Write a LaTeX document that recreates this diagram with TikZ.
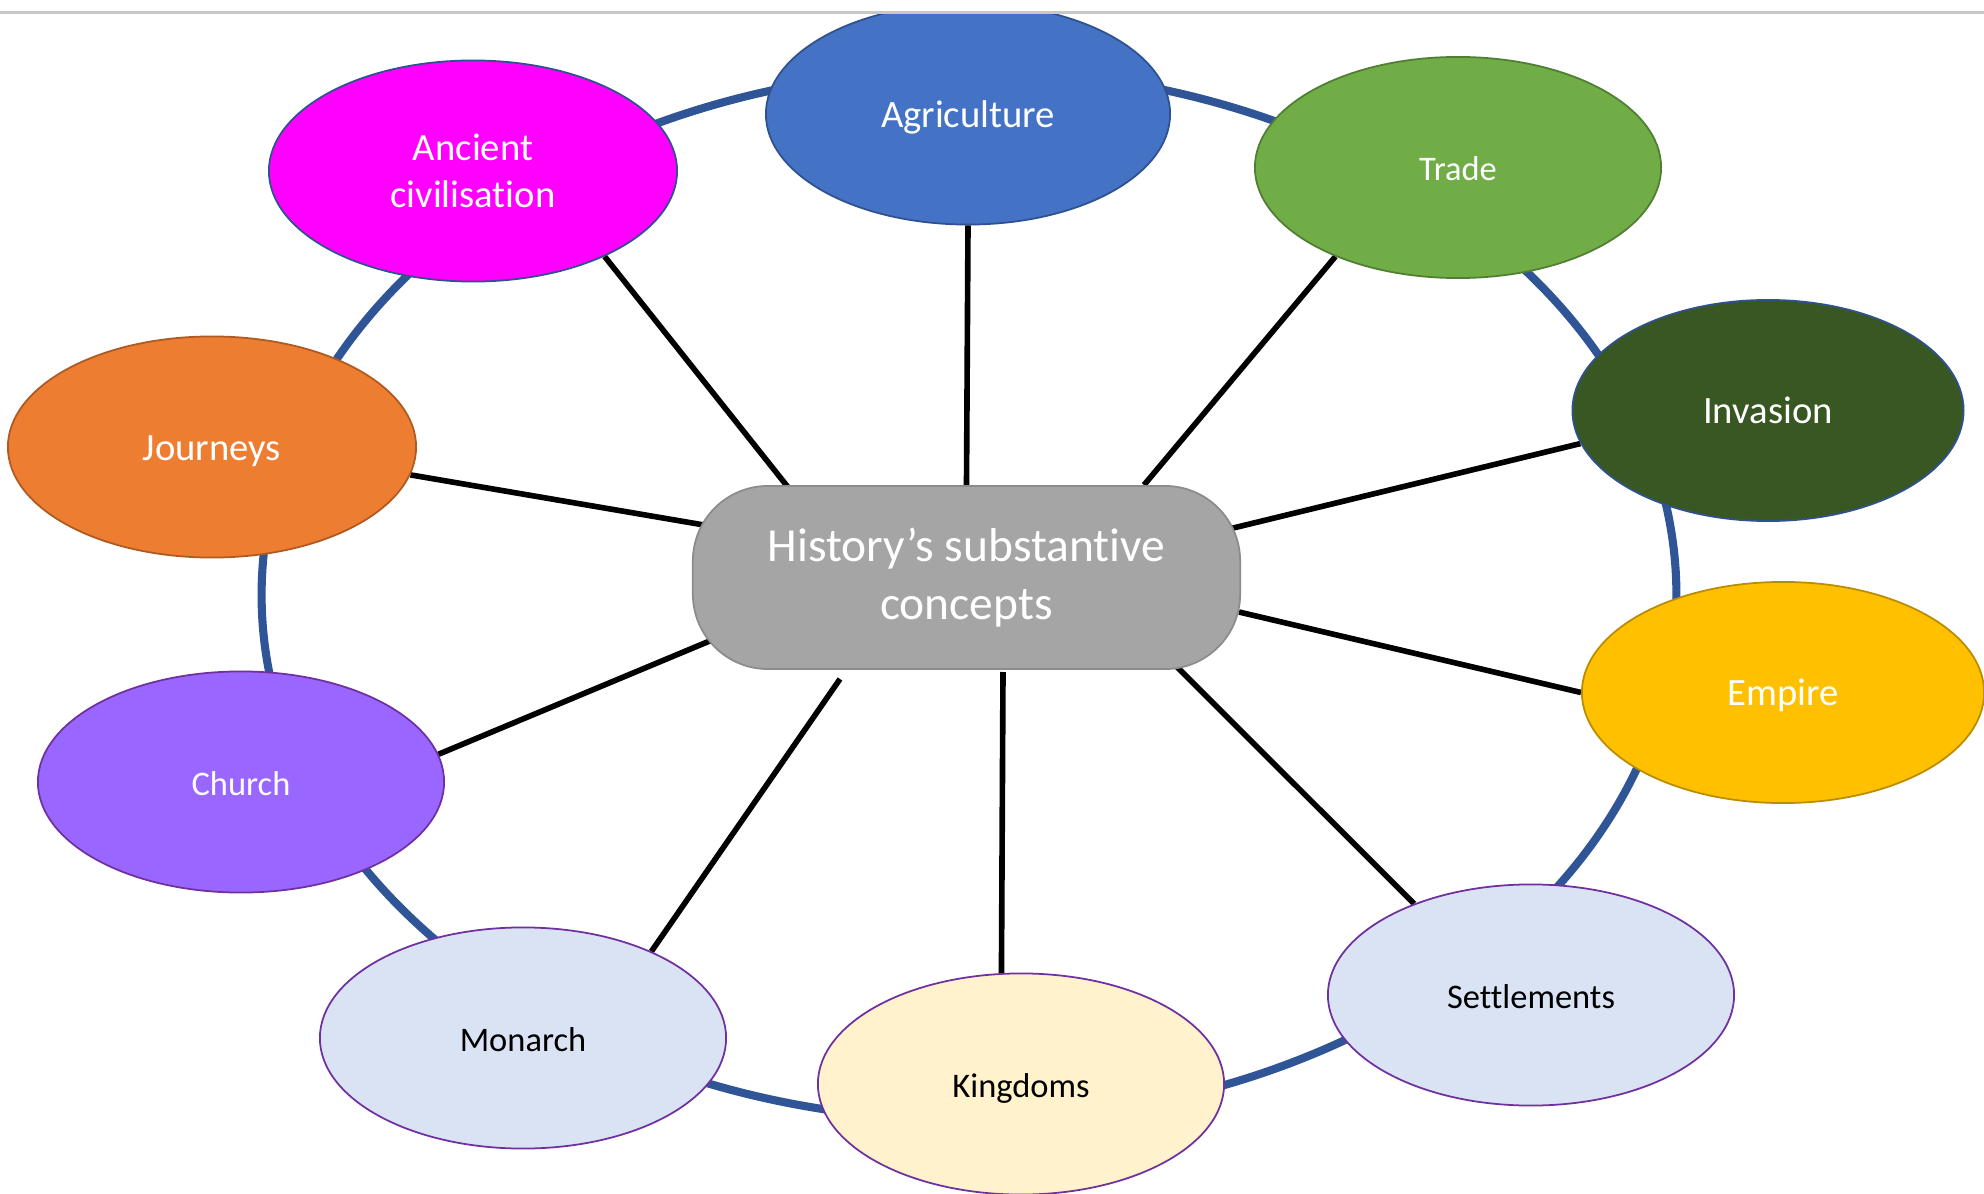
\documentclass[tikz,border=0pt]{standalone}
\usepackage{fontspec}
\setmainfont{Carlito}[Ligatures=CommonOff]
\usetikzlibrary{shapes.geometric,backgrounds}
\definecolor{ringblue}{HTML}{2F5597}
\definecolor{edgeblue}{HTML}{2F528F}
\definecolor{agriblue}{HTML}{4472C4}
\definecolor{magentaC}{HTML}{FF00FF}
\definecolor{tradegreen}{HTML}{70AD47}
\definecolor{tradeedge}{HTML}{507E32}
\definecolor{invgreen}{HTML}{385723}
\definecolor{journorange}{HTML}{ED7D31}
\definecolor{journedge}{HTML}{AE5A21}
\definecolor{empireyellow}{HTML}{FFC000}
\definecolor{empireedge}{HTML}{BC8C00}
\definecolor{churchpurple}{HTML}{9966FF}
\definecolor{purpleedge}{HTML}{7030A0}
\definecolor{lightblueC}{HTML}{DAE3F3}
\definecolor{lightyellowC}{HTML}{FFF2CC}
\definecolor{centergray}{HTML}{A5A5A5}
\definecolor{centeredge}{HTML}{8C8C8C}
\definecolor{topline}{HTML}{C8C8C8}
\tikzset{
  bubble/.style={ellipse, inner sep=0pt, minimum width=4.06cm, minimum height=2.21cm, line width=0.5pt, align=center},
  bigtxt/.style={font=\fontsize{11pt}{13.3pt}\selectfont},
  smalltxt/.style={font=\fontsize{9.8pt}{12pt}\selectfont},
  oneline/.style={text height=0.9em, text depth=0.14em},
  spoke/.style={line width=1.6pt, black},
  ring/.style={line width=2.3pt, ringblue},
  hub/.style={rectangle, rounded corners=0.75cm, minimum width=5.47cm, minimum height=1.83cm, inner sep=0pt,
    fill=centergray, draw=centeredge, line width=0.5pt, text=white, align=center,
    font=\fontsize{13.5pt}{16.5pt}\selectfont}
}
\begin{document}
\begin{tikzpicture}[x=0.01cm,y=-0.01cm]
\useasboundingbox (0,0) rectangle (1984,1194);

\node[hub] (C) at (966.5,577.5) {History’s substantive\\concepts};

\node[bubble, bigtxt, oneline, fill=agriblue, draw=edgeblue, text=white, minimum width=4.04cm] (agri) at (968,114) {Agriculture};
\node[bubble, bigtxt, fill=magentaC, draw=edgeblue, text=white, minimum width=4.08cm] (anc) at (473,171) {Ancient\\civilisation};
\node[bubble, smalltxt, oneline, fill=tradegreen, draw=tradeedge, text=white] (trade) at (1458,167.5) {Trade};
\node[bubble, bigtxt, oneline, fill=invgreen, draw=edgeblue, text=white, minimum width=3.91cm] (inv) at (1768,410.5) {Invasion};
\node[bubble, bigtxt, oneline, fill=journorange, draw=journedge, text=white, minimum width=4.08cm] (jour) at (212,447) {Journeys};
\node[bubble, bigtxt, oneline, fill=empireyellow, draw=empireedge, text=white, minimum width=4.02cm] (emp) at (1783,692.5) {Empire};
\node[bubble, smalltxt, oneline, fill=churchpurple, draw=purpleedge, text=white] (church) at (241,782) {Church};
\node[bubble, smalltxt, oneline, fill=lightblueC, draw=purpleedge, text=black] (mon) at (523,1038) {Monarch};
\node[bubble, smalltxt, oneline, fill=lightyellowC, draw=purpleedge, text=black] (king) at (1021,1084) {Kingdoms};
\node[bubble, smalltxt, oneline, fill=lightblueC, draw=purpleedge, text=black] (sett) at (1531,995) {Settlements};

\begin{scope}[on background layer]
  \fill[white] (0,0) rectangle (1984,1194);
  \draw[ring] (969,595) ellipse [x radius=7.07cm, y radius=5.25cm];
  \draw[spoke] (anc.-33.4) -- ([shift={(-175.5,-86.5)}]C.center);
  \draw[spoke] (agri.south) -- (C.north);
  \draw[spoke] (trade.-144.4) -- ([shift={(177.5,-92.5)}]C.center);
  \draw[spoke] (jour.-8.5) -- ([shift={(-262.5,-52.5)}]C.center);
  \draw[spoke] (inv.-170.2) -- ([shift={(258.5,-47.5)}]C.center);
  \draw[spoke] (emp.west) -- ([shift={(272.5,34.5)}]C.center);
  \draw[spoke] (church.8.8) -- ([shift={(-242.5,57.5)}]C.center);
  \draw[spoke] (mon.34.8) -- ([shift={(-126.5,101.5)}]C.center);
  \draw[spoke] (king.100.2) -- ([shift={(36.5,94.5)}]C.center);
  \draw[spoke] (sett.142.5) -- ([shift={(206.5,85.5)}]C.center);
\end{scope}

\fill[white] (0,0) rectangle (1984,12);
\draw[topline, line width=0.6pt] (0,12.5) -- (1984,12.5);
\end{tikzpicture}
\end{document}
